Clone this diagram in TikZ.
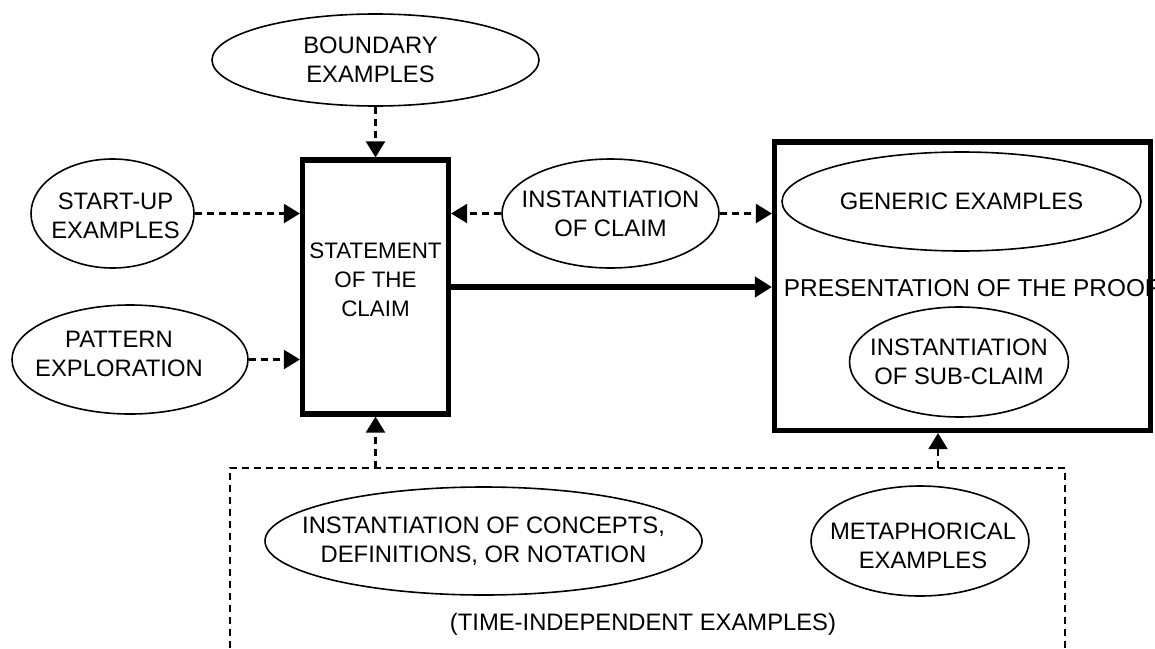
\documentclass[tikz,border=0pt]{standalone}
\usepackage{fontspec}
\setmainfont{Liberation Sans}
\usepackage{tikz}
\usetikzlibrary{arrows.meta,shapes.geometric}

\begin{document}
\begin{tikzpicture}[
x=0.5pt,y=-0.5pt,
every node/.style={font=\fontsize{11.9pt}{14.6pt}\selectfont},
oval/.style={draw,ellipse,line width=.8pt,inner sep=0pt},
txt/.style={align=center,inner sep=0pt},
frame/.style={draw,line width=2.6pt,inner sep=0pt},
arrow/.style={-{Triangle[length=8.5pt,width=10pt]},line width=2.6pt},
dasharrow/.style={-{Triangle[length=8pt,width=9.5pt]},line width=1.1pt,dash pattern=on 3.5pt off 2.5pt},
dashline/.style={line width=1.1pt,dash pattern=on 3.5pt off 2.5pt}
]
\useasboundingbox (0,0) rectangle (1155,648);
\node[oval,minimum width=163.5pt,minimum height=46pt,label={[txt,xshift=-2.5pt]center:BOUNDARY\\EXAMPLES}] (bnd) at (375.5,60) {};
\node[frame,minimum width=73pt,minimum height=127pt,label={[txt,yshift=3.5pt,font=\fontsize{11.2pt}{14.6pt}\selectfont]center:STATEMENT\\OF THE\\CLAIM}] (claim) at (375.5,287) {};
\node[oval,minimum width=81.5pt,minimum height=54.5pt,label={[txt,xshift=1.5pt,yshift=-1pt]center:START-UP\\EXAMPLES}] (startup) at (112.5,213.5) {};
\node[oval,minimum width=118pt,minimum height=54.5pt,label={[txt,xshift=-5.5pt,yshift=2.75pt]center:PATTERN\\EXPLORATION}] (pattern) at (130,359.5) {};
\node[oval,minimum width=108.5pt,minimum height=54.5pt,label={[txt]center:INSTANTIATION\\OF CLAIM}] (instclaim) at (610.5,213.5) {};
\node[anchor=west,inner sep=0pt,font=\fontsize{12.2pt}{14pt}\selectfont] (prooflbl) at (783.5,288.5) {PRESENTATION OF THE PROOF};
\node[frame,minimum width=188pt,minimum height=144.25pt] (proof) at (962.5,286.25) {};
\node[oval,minimum width=179.5pt,minimum height=49.5pt,label={[txt]center:GENERIC EXAMPLES}] (generic) at (961.5,201.5) {};
\node[oval,minimum width=109.5pt,minimum height=55pt,label={[txt]center:INSTANTIATION\\OF SUB-CLAIM}] (instsub) at (959,362) {};
\node[oval,minimum width=218.5pt,minimum height=54pt,label={[txt]center:INSTANTIATION OF CONCEPTS,\\DEFINITIONS, OR NOTATION}] (concepts) at (483.5,541) {};
\node[oval,minimum width=109pt,minimum height=55pt,label={[txt,xshift=1.5pt,yshift=-2.25pt]center:METAPHORICAL\\EXAMPLES}] (metaphor) at (920,541) {};
\node[txt] (timeindep) at (643,624) {(TIME-INDEPENDENT EXAMPLES)};
\coordinate (frameSW) at (230,660);
\coordinate (frameNW) at (230,468);
\coordinate (frameNE) at (1065,468);
\coordinate (frameSE) at (1065,660);
\coordinate (toclaim) at (375.5,468);
\coordinate (toproof) at (938,468);
\draw[dasharrow] (bnd) -- (claim);
\draw[dasharrow] (startup) -- (startup -| claim.west);
\draw[dasharrow] (pattern) -- (pattern -| claim.west);
\draw[dasharrow] (instclaim) -- (instclaim -| claim.east);
\draw[dasharrow] (instclaim) -- (instclaim -| proof.west);
\draw[arrow] (claim) -- (claim -| proof.west);
\draw[dasharrow] (toclaim) -- (claim);
\draw[dasharrow] (toproof) -- (toproof |- proof.south);
\draw[dashline] (frameSW) -- (frameNW) -- (frameNE) -- (frameSE);
\end{tikzpicture}
\end{document}
